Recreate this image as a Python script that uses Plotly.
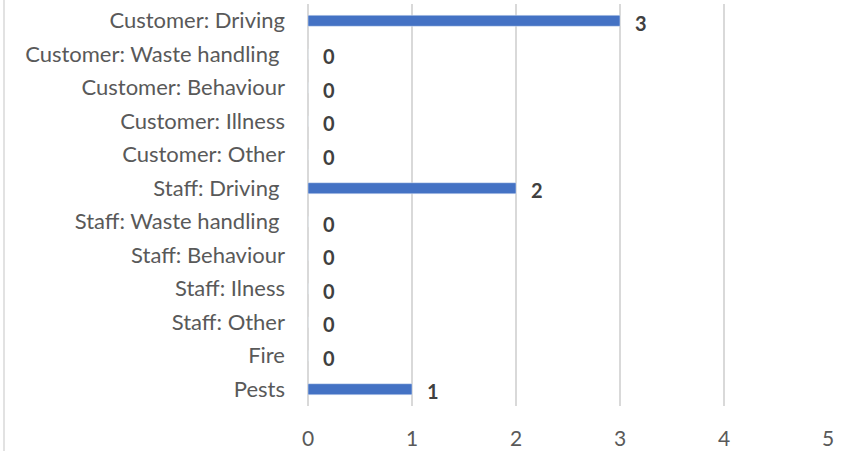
import plotly.graph_objects as go

categories = [
    "Customer: Driving",
    "Customer: Waste handling\u00a0",
    "Customer: Behaviour",
    "Customer: Illness",
    "Customer: Other",
    "Staff: Driving\u00a0",
    "Staff: Waste handling\u00a0",
    "Staff: Behaviour",
    "Staff: Ilness",
    "Staff: Other",
    "Fire",
    "Pests",
]
counts = [3, 0, 0, 0, 0, 2, 0, 0, 0, 0, 0, 1]
x_ticks = [0, 1, 2, 3, 4, 5]

fig = go.Figure(
    go.Bar(
        x=counts,
        y=categories,
        orientation="h",
        marker_color="#4472C4",
        width=0.33,
        hoverinfo="x+y",
    )
)

for cat, val in zip(categories, counts):
    fig.add_annotation(
        x=val, y=cat, text=f"<b>{val}</b>", showarrow=False,
        xanchor="left", xshift=13, yshift=-2,
        font=dict(family="Lato", size=20, color="#404040"),
    )

# outer chart border on the left
fig.add_shape(type="line", xref="paper", yref="paper",
              x0=-304 / 520, x1=-304 / 520, y0=-1.2, y1=1.1,
              line=dict(color="#D9D9D9", width=1.5))

fig.update_layout(
    width=850, height=451,
    margin=dict(l=308, r=22, t=4, b=45),
    plot_bgcolor="white", paper_bgcolor="white",
    showlegend=False,
    font=dict(family="Lato", size=22, color="#595959"),
)
fig.update_xaxes(
    range=[0, 5], tickvals=x_ticks, showgrid=True, gridcolor="#D9D9D9",
    gridwidth=1.5, zeroline=True, zerolinecolor="#D9D9D9", zerolinewidth=1.5,
    showline=False, ticks="", ticklabelstandoff=18, automargin=False,
    tickfont=dict(size=21),
)
fig.update_yaxes(
    categoryorder="array", categoryarray=categories[::-1],
    showgrid=False, zeroline=False, ticks="", ticklabelstandoff=22,
    range=[-0.5, len(categories) - 0.5], automargin=False,
)

fig.write_html("out.html", config={"displayModeBar": False},
               post_script="document.body.style.margin='0';")
